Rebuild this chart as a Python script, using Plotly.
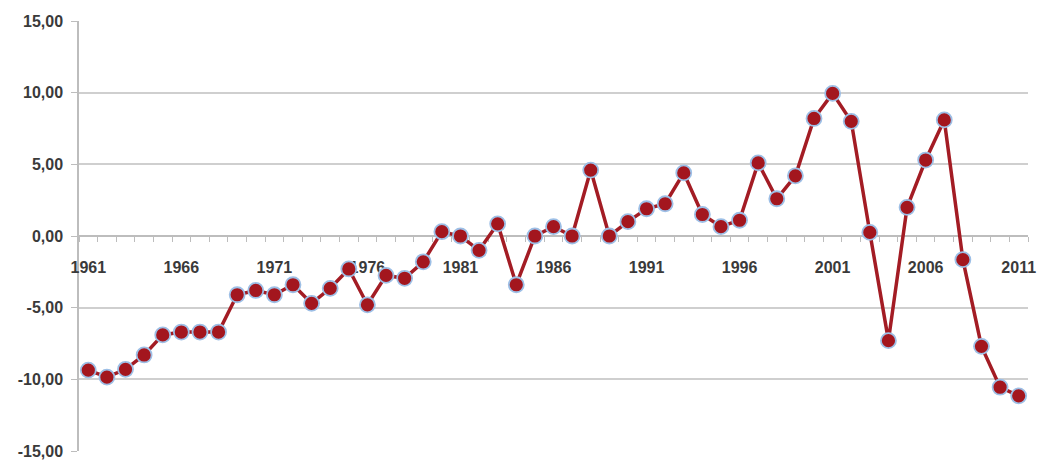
import plotly.graph_objects as go

years = list(range(1961, 2012))
values = [
    -9.36, -9.85, -9.30, -8.30, -6.90, -6.70, -6.70, -6.70, -4.10, -3.80,
    -4.10, -3.40, -4.70, -3.65, -2.30, -4.80, -2.75, -2.95, -1.80, 0.30,
    0.00, -1.00, 0.85, -3.40, 0.00, 0.65, 0.00, 4.60, 0.00, 1.00,
    1.90, 2.25, 4.40, 1.50, 0.65, 1.10, 5.10, 2.60, 4.20, 8.20,
    9.95, 8.00, 0.25, -7.30, 2.00, 5.30, 8.10, -1.65, -7.70, -10.55,
    -11.15,
]
x_tick_labels = [str(y) for y in range(1961, 2012, 5)]
y_ticks = [-15, -10, -5, 0, 5, 10, 15]
y_tick_labels = [f"{v:.2f}".replace(".", ",") for v in y_ticks]

fig = go.Figure()
fig.add_trace(go.Scatter(
    x=years, y=values, mode="lines+markers",
    line=dict(color="#A31C24", width=3.5),
    marker=dict(size=15, color="#A3161E", line=dict(color="#9DBFE6", width=1.8)),
    cliponaxis=False,
    showlegend=False,
))

axis_font = dict(family="Liberation Sans, Arial, sans-serif", size=16, color="#3A3A3A", weight="bold")

fig.update_layout(
    width=1037, height=469,
    margin=dict(l=79, r=9, t=21, b=18),
    paper_bgcolor="white", plot_bgcolor="white",
    xaxis=dict(
        range=[1960.5, 2011.5],
        tickmode="array",
        tickvals=[int(t) for t in x_tick_labels],
        ticktext=x_tick_labels,
        ticks="outside", ticklen=17, tickcolor="rgba(0,0,0,0)",
        minor=dict(tickmode="linear", tick0=1960.5, dtick=1, ticks="outside",
                   ticklen=5, tickcolor="#BDBDBD", tickwidth=1.3, showgrid=False),
        showgrid=False, zeroline=False,
        showline=True, linecolor="#BDBDBD", linewidth=1.5,
        anchor="free", position=0.5,
        tickfont=axis_font,
        automargin=False,
        layer="below traces",
    ),
    yaxis=dict(
        range=[-15, 15],
        tickmode="array", tickvals=y_ticks, ticktext=y_tick_labels,
        ticks="outside", ticklen=6, tickcolor="#BDBDBD", tickwidth=1.3,
        ticklabelstandoff=5,
        showgrid=True, gridcolor="#CFCFCF", gridwidth=1.5,
        zeroline=False,
        showline=True, linecolor="#BDBDBD", linewidth=1.5,
        tickfont=axis_font,
        automargin=False,
        layer="below traces",
    ),
)

fig.write_html("out.html", config={"displayModeBar": False},
               post_script="document.body.style.margin='0';")
